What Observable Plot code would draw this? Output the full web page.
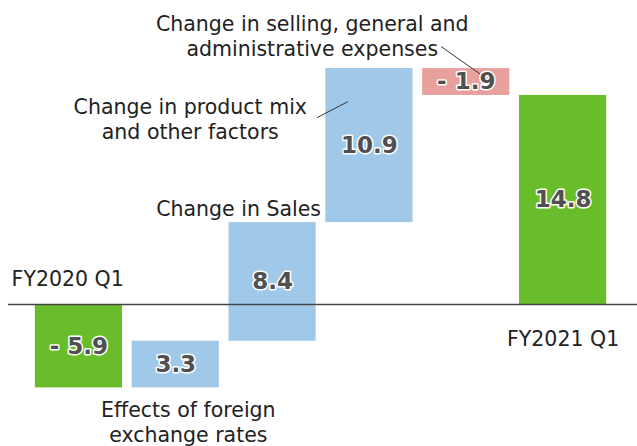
<!DOCTYPE html>
<html><head><meta charset="utf-8">
<script src="https://cdn.jsdelivr.net/npm/d3@7"></script>
<script src="https://cdn.jsdelivr.net/npm/@observablehq/plot@0.6"></script>
<style>body{margin:0;background:#fff}</style>
</head><body><div id="chart"></div>
<script>
const categories = ["FY2020 Q1","Effects of foreign exchange rates","Change in Sales","Change in product mix and other factors","Change in selling, general and administrative expenses","FY2021 Q1"];
const values = [-5.9, 3.3, 8.4, 10.9, -1.9, 14.8];
const kinds = ["total","up","up","up","down","total"];
const valueLabels = ["- 5.9","3.3","8.4","10.9","- 1.9","14.8"];
const colors = {total:"#6abd2a", up:"#a0c8e8", down:"#e8a09c"};

// waterfall rows
let run = 0;
const rows = values.map((v,i) => {
  let y1, y2;
  if (kinds[i] === "total") { y1 = 0; y2 = v; run = v; }
  else { y1 = run; y2 = run + v; run = y2; }
  return {i, cat: categories[i], y1, y2, mid:(y1+y2)/2, label: valueLabels[i], kind: kinds[i]};
});

// annotation texts (data space)
const annotStart = [{x:-0.695, y:1.91, text:"FY2020 Q1"}];
const annotMiddle = [
  {x:1.13, y:-8.3, text:"Effects of foreign\nexchange rates"},
  {x:1.15, y:13.2, text:"Change in product mix\nand other factors"},
  {x:2.41, y:19.07, text:"Change in selling, general and\nadministrative expenses"},
  {x:5.0, y:-2.34, text:"FY2021 Q1"}
];
const annotEnd = [{x:2.5, y:6.86, text:"Change in Sales"}];
const leaders = [
  {x1:2.46, y1:13.23, x2:2.78, y2:14.37},
  {x1:3.74, y1:18.26, x2:4.15, y2:16.28}
];

const txt = {x:"x", y:"y", text:"text", fill:"#222", fontSize:20.5, lineHeight:1.22, lineAnchor:"middle"};

const chart = Plot.plot({
  width: 637, height: 446,
  marginLeft: 30, marginRight: 26, marginTop: 0, marginBottom: 0,
  x: {domain:[-0.5, 5.5], axis: null},
  y: {domain:[-10.05, 21.52], axis: null},
  style: {fontFamily: "'DejaVu Sans', Verdana, sans-serif", background:"#fff"},
  marks: [
    Plot.rectY(rows, {x1: d => d.i - 0.45, x2: d => d.i + 0.45, y1:"y1", y2:"y2", fill: d => colors[d.kind]}),
    Plot.ruleY([0], {stroke:"#444", strokeWidth:1.5, insetLeft:-22, insetRight:-26}),
    Plot.link(leaders, {x1:"x1", y1:"y1", x2:"x2", y2:"y2", stroke:"#333", strokeWidth:1}),
    Plot.text(rows, {x:"i", y:"mid", text:"label", fill:"#505050", fontSize:23, fontWeight:"bold", stroke:"white", strokeWidth:3, paintOrder:"stroke", letterSpacing:2.5}),
    Plot.text(annotStart, {...txt, textAnchor:"start"}),
    Plot.text(annotMiddle, {...txt, textAnchor:"middle"}),
    Plot.text(annotEnd, {...txt, textAnchor:"end"})
  ]
});
document.getElementById("chart").appendChild(chart);
</script>
</body></html>
